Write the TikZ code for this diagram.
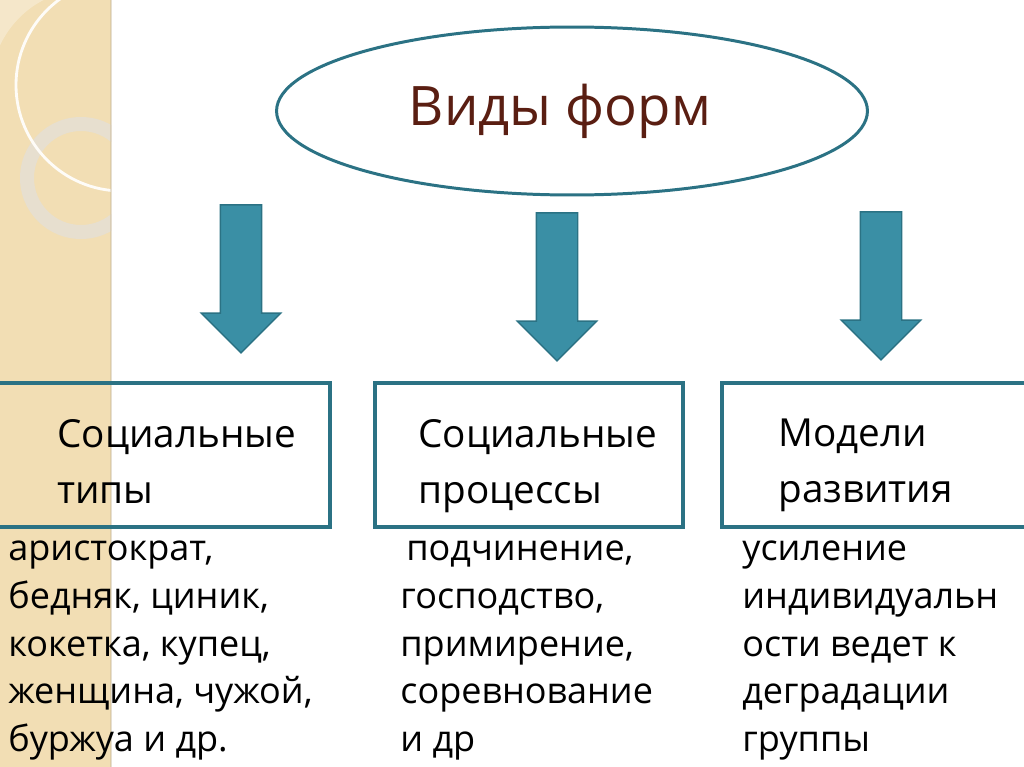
\documentclass[tikz,border=0pt]{standalone}
\usepackage{fontspec}
\setmainfont{Open Sans}
\usetikzlibrary{shapes.geometric,shapes.arrows}

\definecolor{stripbg}{HTML}{F2DEB4}
\definecolor{stripring}{HTML}{E7DFCF}
\definecolor{teal}{HTML}{2B7284}
\definecolor{arrowfill}{HTML}{3A8FA5}
\definecolor{titlebrown}{HTML}{5A1E12}

\tikzset{
  formbox/.style={draw=teal, line width=1.8pt},
  downarrow/.style={single arrow, draw=teal, fill=arrowfill, line width=0.8pt,
    minimum height=2.96cm, single arrow head extend=0.38cm,
    single arrow tip angle=90, inner xsep=0pt, inner ysep=0.4cm, rotate=-90},
  headtext/.style={font=\fontsize{22}{31.7}\selectfont, align=left, anchor=north west, inner sep=0pt},
  listtext/.style={font=\fontsize{20.5}{27.1}\selectfont, align=left, anchor=north west, inner sep=0pt}
}

\begin{document}
\begin{tikzpicture}[x=0.02cm, y=-0.02cm]
            \useasboundingbox (0, 0) rectangle (1024, 767);
            \fill[white] (0, 0) rectangle (1024, 767);
            % left strip
            \begin{scope}
                \clip (0, 0) rectangle (111, 767);
                \fill[stripbg] (0, 0) rectangle (111, 767);
                \fill[white, opacity=0.3] (-10, 90) arc (180:360:95 and 100) -- (180, -10) -- (-10, -10) -- cycle;
                \fill[stripring, even odd rule] (81, 178) circle (61) (81, 178) circle (47);
                \draw[white!90!stripbg, line width=1.6pt] (122, 85) circle (106);
            \end{scope}
            \draw[stripbg!80!black, opacity=0.4, line width=1pt] (111, 0) -- (111, 767);
            % ellipse
            \node[ellipse, draw=teal, line width=1.7pt, minimum width=11.82cm, minimum height=3.36cm] (vidy) at (572, 111) {};
            \node[text=titlebrown, font=\fontsize{31}{36}\selectfont, inner sep=0pt] (vidytext) at (560, 111) {Виды форм};
            % arrows
            \node[downarrow] (arr1) at (241, 268.5) {};
            \node[downarrow] (arr2) at (557, 276.5) {};
            \node[downarrow] (arr3) at (881, 275.5) {};
            % boxes
            \draw[formbox] (-10, 383) rectangle (330, 527);
            \draw[formbox] (375, 383) rectangle (683, 527);
            \draw[formbox] (722, 383) rectangle (1040, 527);
            \node[headtext] (tipy) at (57, 419) {Социальные\\типы};
            \node[headtext] (processy) at (418, 419) {Социальные\\процессы};
            \node[headtext] (modeli) at (778, 419) {Модели\\развития};
            % lists
            \node[listtext] (tipylist) at (8, 541) {аристократ,\\бедняк, циник,\\кокетка, купец,\\женщина, чужой,\\буржуа и др.};
            \node[listtext] (processylist) at (400, 541) {\hspace{0.12cm}подчинение,\\господство,\\примирение,\\соревнование\\и др};
            \node[listtext] (modelilist) at (742, 541) {усиление\\индивидуальн\\ости ведет к\\деградации\\группы};
        \end{tikzpicture}
\end{document}
